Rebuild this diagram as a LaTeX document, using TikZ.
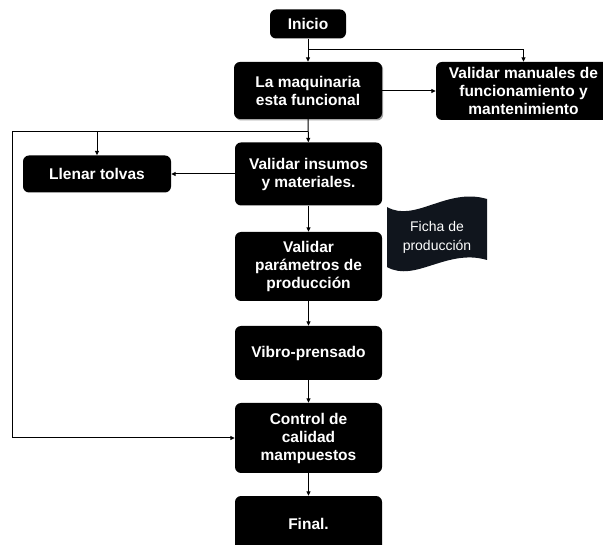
\documentclass[tikz,border=0pt]{standalone}
\usepackage{fontspec}
\setmainfont{Liberation Sans}
\usetikzlibrary{arrows.meta,shadows}
\definecolor{tapefill}{RGB}{16,21,29}
\tikzset{
  stepbox/.style={fill=black, rounded corners=6pt, text=white, inner sep=0pt,
    font=\bfseries\fontsize{15.5}{18}\selectfont, align=center,
    minimum width=147pt},
  flow/.style={draw=black, line width=1pt, -{Triangle[length=4.5pt,width=4pt]}},
  tapetext/.style={text=white, font=\fontsize{14}{19}\selectfont, align=center, inner sep=0pt},
}
\begin{document}
\begin{tikzpicture}[x=1pt,y=-1pt]
\useasboundingbox (0,0) rectangle (603,545);
\clip (0,0) rectangle (603,545);

% process steps
\node[stepbox, minimum width=76pt, minimum height=29pt] (inicio) at (308,24) {Inicio};
\node[stepbox, minimum width=148pt, minimum height=57pt,
      drop shadow={shadow xshift=1.2pt, shadow yshift=-1.5pt, fill=black, opacity=0.35}]
      (maq) at (308,90.5) {La maquinaria\\esta funcional};
\node[stepbox, minimum width=175pt, minimum height=58pt] (manuales) at (523.5,91)
      {Validar manuales de\\funcionamiento y\\mantenimiento};
\node[stepbox, minimum height=63pt] (insumos) at (308.5,174) {Validar insumos\\y materiales.};
\node[stepbox, minimum width=148pt, minimum height=37pt] (llenar) at (97,174) {Llenar tolvas};
\node[stepbox, minimum height=69pt] (param) at (308.5,266.5) {Validar\\parámetros de\\producción};
\node[stepbox, minimum height=54pt] (vibro) at (308.5,353) {Vibro-prensado};
\node[stepbox, minimum height=70pt] (control) at (308.5,438) {Control de\\calidad\\mampuestos};
\node[stepbox, minimum height=56pt] (final) at (308.5,524) {Final.};

% production sheet (punched tape shape)
\fill[tapefill] (387,207) .. controls (415,223) and (447,187) .. (487,199)
  -- (487,260) .. controls (447,248) and (415,283) .. (387,267) -- cycle;
\node[tapetext] (ficha) at (437,237) {Ficha de\\producción};

% junction points
\coordinate (j1) at (inicio.south |- 0,50);
\coordinate (j2) at (maq.south |- 0,131.7);
\coordinate (j3) at (12.7,131.7);
\coordinate (j4) at (llenar.north |- 0,131.7);

% connectors
\draw[flow] (inicio) -- (maq);
\draw[flow] (j1) -| (manuales.north);
\draw[flow] (maq.east |- manuales.west) -- (manuales.west);
\draw[flow] (maq) -- (insumos);
\draw[flow] (j2) -- (j3) |- (control.west);
\draw[flow] (j4) -- (llenar.north);
\draw[flow] (insumos.west) -- (llenar.east);
\draw[flow] (insumos) -- (param);
\draw[flow] (param) -- (vibro);
\draw[flow] (vibro) -- (control);
\draw[flow] (control) -- (final);
\end{tikzpicture}
\end{document}
